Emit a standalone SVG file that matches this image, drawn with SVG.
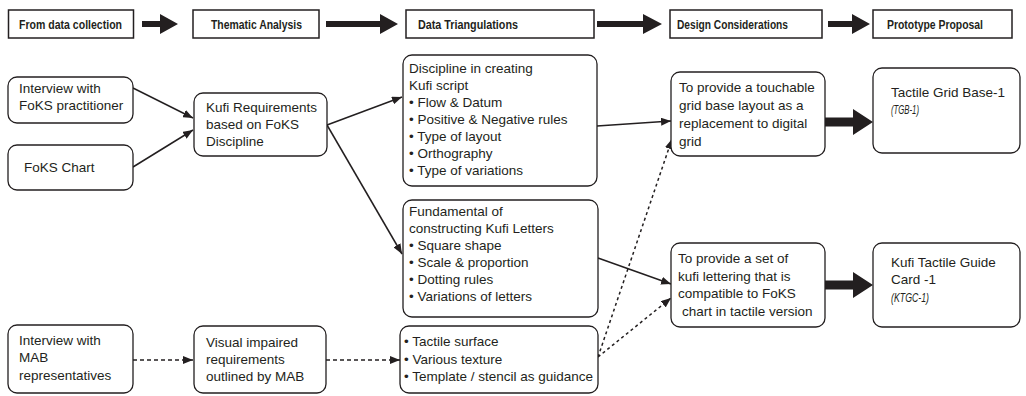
<svg xmlns="http://www.w3.org/2000/svg" width="1026" height="396" viewBox="0 0 1026 396">
<style>
.hb{fill:#fff;stroke:#231f20;stroke-width:1.5}
.ht{font-family:"Liberation Sans",Arial,sans-serif;font-weight:bold;font-size:13px;fill:#231f20}
.ha{fill:#231f20}
.nb{fill:#fff;stroke:#231f20;stroke-width:1.3}
.t{font-family:"Liberation Sans",Arial,sans-serif;font-size:13.5px;fill:#231f20}
.it{font-family:"Liberation Sans",Arial,sans-serif;font-style:italic;font-size:12px;fill:#231f20}
.c{fill:none;stroke:#231f20;stroke-width:1.5}
.d{stroke-dasharray:3 3}
.dd{stroke-dasharray:4 3}
</style>
<defs>
<marker id="ah" markerUnits="userSpaceOnUse" markerWidth="10" markerHeight="8" refX="10" refY="4" orient="auto">
<path d="M0,0 L10,4 L0,8 z" fill="#231f20"/>
</marker>
</defs>
<rect width="1026" height="396" fill="#fff"/>
<g id="header">
<g id="h1"><rect class="hb" x="8.5" y="10" width="125" height="28"/><text class="ht" x="19" y="29" textLength="103" lengthAdjust="spacingAndGlyphs">From data collection</text></g>
<g id="h2"><rect class="hb" x="193" y="10" width="126" height="28"/><text class="ht" x="211" y="29" textLength="91" lengthAdjust="spacingAndGlyphs">Thematic Analysis</text></g>
<g id="h3"><rect class="hb" x="406" y="10" width="188" height="28"/><text class="ht" x="418" y="29" textLength="100" lengthAdjust="spacingAndGlyphs">Data Triangulations</text></g>
<g id="h4"><rect class="hb" x="670" y="10" width="152" height="28"/><text class="ht" x="677" y="29" textLength="111" lengthAdjust="spacingAndGlyphs">Design Considerations</text></g>
<g id="h5"><rect class="hb" x="873" y="10" width="139" height="28"/><text class="ht" x="887" y="29" textLength="96" lengthAdjust="spacingAndGlyphs">Prototype Proposal</text></g>
<polygon class="ha" points="142,21 160,21 160,14 178,24 160,34 160,27 142,27"/>
<polygon class="ha" points="326,21 380,21 380,14 398,24 380,34 380,27 326,27"/>
<polygon class="ha" points="597,21 643,21 643,14 662,24 643,34 643,27 597,27"/>
<polygon class="ha" points="828,21 852,21 852,14 870,24 852,34 852,27 828,27"/>
</g>
<g id="connectors">
<line class="c" x1="133" y1="88" x2="193" y2="118" marker-end="url(#ah)"/>
<line class="c" x1="133" y1="167" x2="193" y2="130" marker-end="url(#ah)"/>
<line class="c" x1="327" y1="125" x2="402" y2="97" marker-end="url(#ah)"/>
<line class="c" x1="327" y1="125" x2="402" y2="254" marker-end="url(#ah)"/>
<line class="c" x1="597" y1="126" x2="671" y2="121" marker-end="url(#ah)"/>
<line class="c" x1="598" y1="258" x2="671" y2="284" marker-end="url(#ah)"/>
<line class="c d" x1="598" y1="357" x2="672" y2="139" marker-end="url(#ah)"/>
<line class="c d" x1="598" y1="357" x2="671" y2="298" marker-end="url(#ah)"/>
<line class="c dd" x1="133" y1="360" x2="193" y2="360" marker-end="url(#ah)"/>
<line class="c dd" x1="326" y1="360" x2="400" y2="360" marker-end="url(#ah)"/>
<polygon class="ha" points="825,117.5 853,117.5 853,109 873,122 853,135 853,126.5 825,126.5"/>
<polygon class="ha" points="825,280.5 853,280.5 853,272 873,285 853,298 853,289.5 825,289.5"/>
</g>
<g id="nA"><rect class="nb" x="8" y="77" width="125" height="46" rx="9"/><text class="t" x="19" y="93">Interview with</text><text class="t" x="19" y="110">FoKS practitioner</text></g>
<g id="nB"><rect class="nb" x="8" y="145" width="125" height="45" rx="9"/><text class="t" x="24" y="172">FoKS Chart</text></g>
<g id="nC"><rect class="nb" x="194" y="93" width="133" height="63" rx="9"/><text class="t" x="206" y="112">Kufi Requirements</text><text class="t" x="206" y="129">based on FoKS</text><text class="t" x="206" y="146">Discipline</text></g>
<g id="nD"><rect class="nb" x="403" y="55" width="194" height="131" rx="9"/>
<text class="t" x="409" y="73">Discipline in creating</text><text class="t" x="409" y="90">Kufi script</text><text class="t" x="409" y="107">• Flow &amp; Datum</text><text class="t" x="409" y="124">• Positive &amp; Negative rules</text><text class="t" x="409" y="141">• Type of layout</text><text class="t" x="409" y="158">• Orthography</text><text class="t" x="409" y="175">• Type of variations</text></g>
<g id="nE"><rect class="nb" x="403" y="200" width="195" height="117" rx="9"/>
<text class="t" x="409" y="216">Fundamental of</text><text class="t" x="409" y="233">constructing Kufi Letters</text><text class="t" x="409" y="250">• Square shape</text><text class="t" x="409" y="267">• Scale &amp; proportion</text><text class="t" x="409" y="284">• Dotting rules</text><text class="t" x="409" y="301">• Variations of letters</text></g>
<g id="nF"><rect class="nb" x="400" y="326" width="198" height="67" rx="9"/>
<text class="t" x="404" y="346">• Tactile surface</text><text class="t" x="404" y="363.5">• Various texture</text><text class="t" x="404" y="381">• Template / stencil as guidance</text></g>
<g id="nG"><rect class="nb" x="8" y="325" width="125" height="68" rx="9"/><text class="t" x="19" y="345">Interview with</text><text class="t" x="19" y="362">MAB</text><text class="t" x="19" y="380">representatives</text></g>
<g id="nH"><rect class="nb" x="194" y="326" width="132" height="67" rx="9"/><text class="t" x="206" y="347">Visual impaired</text><text class="t" x="206" y="364">requirements</text><text class="t" x="206" y="381">outlined by MAB</text></g>
<g id="nI"><rect class="nb" x="671" y="72" width="154" height="84" rx="9"/><text class="t" x="679" y="92">To provide a touchable</text><text class="t" x="679" y="110">grid base layout as a</text><text class="t" x="679" y="128">replacement to digital</text><text class="t" x="679" y="146">grid</text></g>
<g id="nJ"><rect class="nb" x="873" y="68" width="147" height="85" rx="9"/><text class="t" x="891" y="97">Tactile Grid Base-1</text><text class="it" x="891" y="114" textLength="28" lengthAdjust="spacingAndGlyphs">(TGB-1)</text></g>
<g id="nK"><rect class="nb" x="671" y="243" width="154" height="84" rx="9"/><text class="t" x="678" y="263">To provide a set of</text><text class="t" x="678" y="281">kufi lettering that is</text><text class="t" x="678" y="298">compatible to FoKS</text><text class="t" x="682" y="316">chart in tactile version</text></g>
<g id="nL"><rect class="nb" x="873" y="243" width="147" height="84" rx="9"/><text class="t" x="891" y="267">Kufi Tactile Guide</text><text class="t" x="891" y="284">Card -1</text><text class="it" x="891" y="302" textLength="38" lengthAdjust="spacingAndGlyphs">(KTGC-1)</text></g>
</svg>
